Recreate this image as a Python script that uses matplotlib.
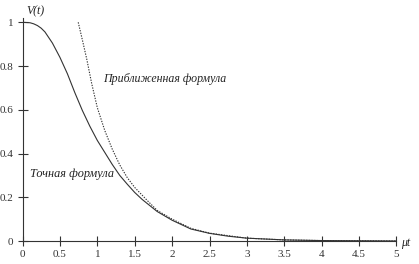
import matplotlib
matplotlib.use('Agg')
import matplotlib.pyplot as plt

plt.rcParams['font.family'] = ['Liberation Serif', 'DejaVu Serif']

# exact formula
t_exact = [0, 0.1, 0.15, 0.2, 0.25, 0.3, 0.4, 0.5, 0.6, 0.7, 0.8, 0.9, 1.0, 1.1,
           1.2, 1.3, 1.4, 1.5, 1.6, 1.8, 2.0, 2.25, 2.5, 2.75, 3.0, 3.5, 4.0, 5.0]
v_exact = [1.0, 0.998, 0.993, 0.985, 0.973, 0.956, 0.905, 0.84, 0.765, 0.678,
           0.597, 0.525, 0.46, 0.405, 0.35, 0.3, 0.26, 0.222, 0.19, 0.135,
           0.095, 0.055, 0.035, 0.022, 0.013, 0.005, 0.002, 0.0]

# approximate formula
t_approx = [0.745, 0.8, 0.86, 0.925, 1.0, 1.1, 1.2, 1.3, 1.4, 1.5, 1.66, 1.8,
            2.0, 2.25, 2.5, 3.0, 3.5, 4.0, 5.0]
v_approx = [1.0, 0.92, 0.83, 0.72, 0.61, 0.505, 0.42, 0.348, 0.29, 0.245, 0.188,
            0.14, 0.1, 0.058, 0.036, 0.013, 0.005, 0.002, 0.0]

xticks = [0, 0.5, 1, 1.5, 2, 2.5, 3, 3.5, 4, 4.5, 5]
xlabels = ['0', '0.5', '1', '1.5', '2', '2.5', '3', '3.5', '4', '4.5', '5']
yticks = [0, 0.2, 0.4, 0.6, 0.8, 1]
ylabels = ['0', '0.2', '0.4', '0.6', '0.8', '1']

fig = plt.figure(figsize=(4.19, 2.64), dpi=100)
ax = fig.add_axes([0.0537, 0.0871, 0.8926, 0.845])

ax.plot(t_exact, v_exact, color='#333333', linewidth=0.8)
ax.plot(t_approx, v_approx, color='#333333', linewidth=0.8, linestyle=(0, (1.2, 1.2)))

ax.set_xlim(0, 5)
ax.set_ylim(0, 1.02)

for s in ['top', 'right']:
    ax.spines[s].set_visible(False)
for s in ['left', 'bottom']:
    ax.spines[s].set_color('#333333')
    ax.spines[s].set_linewidth(0.8)

ax.set_xticks(xticks)
ax.set_xticklabels(xlabels)
ax.set_yticks(yticks)
ax.set_yticklabels(ylabels)
ax.tick_params(direction='inout', length=7, width=0.8, color='#333333',
               labelsize=8, labelcolor='#333333', pad=3)

ax.text(0.05, 1.05, 'V(t)', fontsize=8.5, style='italic',
        ha='left', va='center', color='#222222', clip_on=False)
ax.text(5.06, -0.01, 'μt', fontsize=8.5, style='italic', ha='left', va='center',
        color='#222222', clip_on=False)

ax.text(1.08, 0.74, 'Приближенная формула', fontsize=8.6, style='italic',
        ha='left', va='center', color='#222222')
ax.text(0.1, 0.305, 'Точная формула', fontsize=8.8, style='italic',
        ha='left', va='center', color='#222222')

plt.savefig('out.png', dpi=100)
